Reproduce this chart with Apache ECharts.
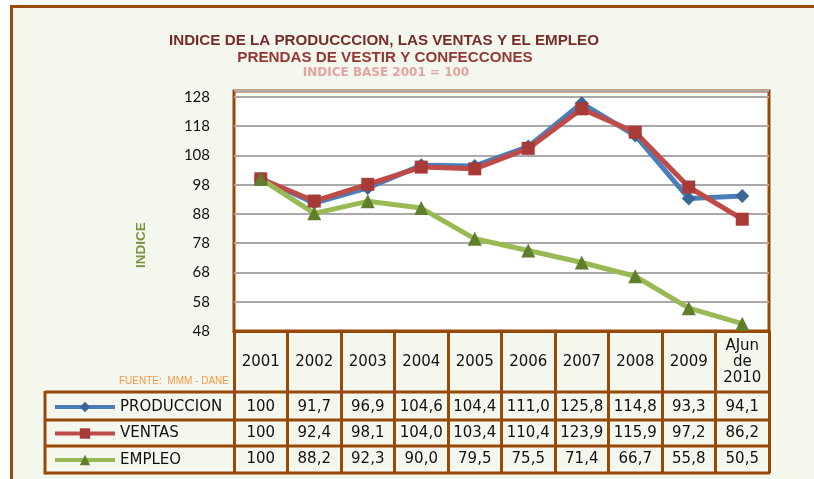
<!DOCTYPE html>
<html><head><meta charset="utf-8">
<script src="https://cdn.jsdelivr.net/npm/echarts@6/dist/echarts.min.js"></script>
<style>html,body{margin:0;padding:0;background:#fff}#c{width:814px;height:479px}</style>
</head><body><div id="c"></div>
<script>
var categories = ['2001','2002','2003','2004','2005','2006','2007','2008','2009','AJun\nde\n2010'];
var produccion = [100, 91.7, 96.9, 104.6, 104.4, 111.0, 125.8, 114.8, 93.3, 94.1];
var ventas = [100, 92.4, 98.1, 104.0, 103.4, 110.4, 123.9, 115.9, 97.2, 86.2];
var empleo = [100, 88.2, 92.3, 90.0, 79.5, 75.5, 71.4, 66.7, 55.8, 50.5];
var seriesNames = ['PRODUCCION', 'VENTAS', 'EMPLEO'];
var yTicks = {min: 48, max: 130, interval: 10};

var BROWN = '#984807';
var BG = '#F4F7EE';
function fmt(v){ return v === 100 ? '100' : v.toFixed(1).replace('.', ','); }
var tableFont = {fontFamily: 'DejaVu Sans', fontSize: 15, color: '#111'};

function rowAxis(values, margin){
  return {type:'category', gridIndex:0, position:'bottom', data: values.map(fmt),
    axisLine:{show:false}, axisTick:{show:false}, splitLine:{show:false},
    axisLabel: Object.assign({interval:0, margin: margin, verticalAlign:'middle'}, tableFont)};
}
function legendFor(name, center){
  return {data:[name], orient:'vertical', left:53, top: center - 6.5, padding:0, itemWidth:60, itemHeight:13, itemGap:3,
    lineStyle:{width:4},
    textStyle:{fontFamily:'DejaVu Sans', fontSize:15, color:'#111', lineHeight:13}};
}
var chart = echarts.init(document.getElementById('c'), null, {renderer:'canvas'});
var hl = function(y, x1, x2){ return {type:'line', z:100, shape:{x1:x1, y1:y, x2:x2, y2:y}, style:{stroke:BROWN, lineWidth:3}}; };
chart.setOption({
  backgroundColor: '#fff',
  animation: false,
  graphic: {elements: [
    {type:'rect', z:-100, shape:{x:11.5, y:6.5, width:900, height:600}, style:{fill:BG, stroke:BROWN, lineWidth:3}},
    {type:'text', x:384, y:41, style:{text:'INDICE DE LA PRODUCCCION, LAS VENTAS Y EL EMPLEO', fill:'#772C2A', font:'bold 15.2px "Liberation Sans"', textAlign:'center', textVerticalAlign:'middle'}},
    {type:'text', x:385, y:58, style:{text:'PRENDAS DE VESTIR Y CONFECCONES', fill:'#953735', font:'bold 15.2px "Liberation Sans"', textAlign:'center', textVerticalAlign:'middle'}},
    {type:'text', x:386, y:73, style:{text:'INDICE BASE 2001 = 100', fill:'#E3A3A2', font:'bold 12px "DejaVu Sans"', textAlign:'center', textVerticalAlign:'middle'}},
    {type:'text', x:229, y:381, style:{text:'FUENTE:  MMM - DANE', fill:'#F79646', font:'10px "Liberation Sans"', textAlign:'right', textVerticalAlign:'middle'}},
    {type:'text', x:141, y:245, rotation:Math.PI/2, style:{text:'INDICE', fill:'#77933C', font:'bold 13.5px "Liberation Sans"', textAlign:'center', textVerticalAlign:'middle'}},
    hl(392, 45, 770), hl(420, 45, 770), hl(446, 45, 770), hl(473, 45, 770),
    {type:'line', z:100, shape:{x1:45, y1:391, x2:45, y2:474.5}, style:{stroke:BROWN, lineWidth:3}}
  ]},
  legend: [legendFor(seriesNames[0], 406), legendFor(seriesNames[1], 432.5), legendFor(seriesNames[2], 459)],
  grid: {left:234, right:45, top:91, bottom:148, show:true, backgroundColor:'#fff', borderColor:BROWN, borderWidth:3},
  xAxis: [
    {type:'category', data: categories, boundaryGap:true,
      axisLine:{show:true, lineStyle:{color:BROWN, width:3}},
      axisTick:{show:true, interval:0, alignWithLabel:false, length:142, lineStyle:{color:BROWN, width:3}},
      axisLabel: Object.assign({interval:0, margin:31, verticalAlign:'middle', lineHeight:16}, tableFont)},
    rowAxis(produccion, 76), rowAxis(ventas, 102), rowAxis(empleo, 128)
  ],
  yAxis: {type:'value', min: yTicks.min, max: yTicks.max, interval: yTicks.interval,
    axisLine:{show:false}, axisTick:{show:false},
    axisLabel:{showMaxLabel:false, margin:24, fontFamily:'Lato', fontSize:15, color:'#111'},
    splitLine:{lineStyle:{color:'#A9A9A9', width:2}}},
  series: [
    {name:seriesNames[0], type:'line', data:produccion, symbol:'diamond', symbolSize:14,
      lineStyle:{color:'#4A7EBB', width:5}, itemStyle:{color:'#3B6798', borderWidth:0}, color:'#4A7EBB'},
    {name:seriesNames[1], type:'line', data:ventas, symbol:'rect', symbolSize:13,
      lineStyle:{color:'#BE4B48', width:5}, itemStyle:{color:'#A83A38', borderWidth:0}, color:'#BE4B48'},
    {name:seriesNames[2], type:'line', data:empleo, symbol:'triangle', symbolSize:14,
      lineStyle:{color:'#98B954', width:5}, itemStyle:{color:'#5F7F2B', borderWidth:0}, color:'#98B954'}
  ]
});
</script></body></html>
